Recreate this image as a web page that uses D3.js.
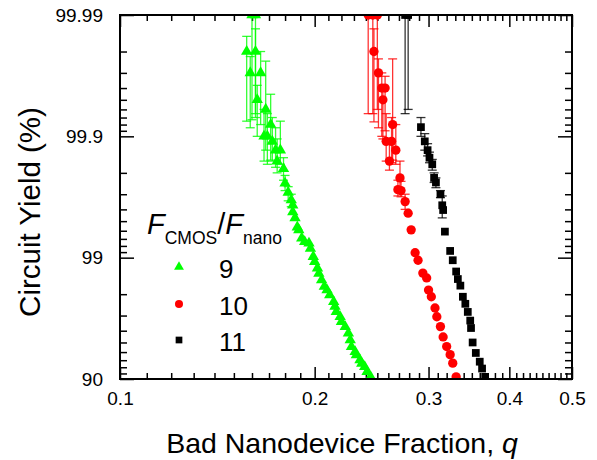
<!DOCTYPE html>
<html>
<head>
<meta charset="utf-8">
<script src="https://cdn.jsdelivr.net/npm/d3@7"></script>
<style>
  body { margin: 0; background: #fff; }
  svg { display: block; font-family: "Liberation Sans", Arial, sans-serif; }
  .axis path { display: none; }
  .axis line { stroke: #000; stroke-width: 1.5; }
  .axis text { font-size: 19px; fill: #000; font-family: "Liberation Sans", Arial, sans-serif; }
</style>
</head>
<body>
<div id="chart"></div>
<script>
/* DATA: q = bad nanodevice fraction, yield in %, error bar ends (yield %) */
var seriesNames = ["9", "10", "11"];

/* F_CMOS/F_nano = 9 */
var qGreen     = [0.160, 0.162, 0.157, 0.162, 0.159, 0.165, 0.163, 0.168, 0.171, 0.167, 0.169, 0.172, 0.174, 0.177, 0.175, 0.179,
                  0.180, 0.182, 0.184, 0.185, 0.185, 0.1865, 0.188, 0.189, 0.191, 0.193, 0.196, 0.197, 0.199, 0.200, 0.202, 0.203,
                  0.205, 0.207, 0.209, 0.211, 0.214, 0.215, 0.216, 0.219, 0.220, 0.223, 0.2255, 0.227, 0.228, 0.231, 0.232, 0.235,
                  0.2365, 0.239, 0.241, 0.244];
var yieldGreen = [99.99, 99.99, 99.98, 99.98, 99.97, 99.97, 99.95, 99.94, 99.92, 99.90, 99.90, 99.89, 99.87, 99.87, 99.84, 99.815,
                  99.756, 99.71, 99.665, 99.63, 99.58, 99.53, 99.44, 99.41, 99.31, 99.26, 99.24, 99.16, 99.02, 98.92, 98.78, 98.65,
                  98.47, 98.27, 98.15, 97.97, 97.69, 97.47, 97.21, 96.93, 96.63, 96.29, 95.80, 95.23, 94.58, 94.04, 93.66, 93.03,
                  92.57, 92.08, 91.29, 90.43];
var loGreen    = [99.927, 99.935, 99.925, 99.93, 99.915, 99.92, 99.90, 99.87, 99.843, 99.84, 99.83, 99.84, 99.82, 99.83, 99.80, 99.77, 99.72, 99.66, 99.62];
var hiGreen    = [99.999, 99.999, 99.985, 99.987, 99.978, 99.98, 99.962, 99.976, 99.955, 99.94, 99.935, 99.93, 99.915, 99.925, 99.895, 99.85, 99.79, 99.74, 99.70];

/* F_CMOS/F_nano = 10 */
var qRed     = [0.242, 0.246, 0.250, 0.247, 0.251, 0.254, 0.257, 0.255, 0.264, 0.258, 0.263, 0.267, 0.261, 0.271, 0.269, 0.272, 0.276,
                0.279, 0.282, 0.286, 0.289, 0.294, 0.298, 0.300, 0.303, 0.307, 0.309, 0.313, 0.316, 0.320, 0.324, 0.327, 0.331];
var yieldRed = [99.99, 99.99, 99.99, 99.98, 99.97, 99.96, 99.96, 99.95, 99.92, 99.89, 99.89, 99.87, 99.84, 99.78, 99.725, 99.72, 99.655,
                99.57, 99.41, 99.09, 98.95, 98.66, 98.53, 98.15, 97.90, 97.4, 96.93, 96.3, 95.5, 94.6, 93.7, 92.6, 90.4];
var loRed    = [99.935, 99.935, 99.94, 99.924, 99.915, 99.90, 99.91, 99.895, 99.843, 99.84, 99.835, 99.83, 99.81, 99.73, 99.69, 99.685, 99.60];
var hiRed    = [99.999, 99.999, 99.999, 99.987, 99.977, 99.97, 99.968, 99.962, 99.977, 99.935, 99.93, 99.92, 99.89, 99.84, 99.77, 99.765, 99.70];

/* F_CMOS/F_nano = 11 */
var qBlack     = [0.276, 0.279, 0.292, 0.296, 0.299, 0.301, 0.304, 0.306, 0.308, 0.313, 0.315, 0.316, 0.318, 0.324, 0.327, 0.331,
                  0.333, 0.336, 0.339, 0.342, 0.345, 0.348, 0.349, 0.351, 0.355, 0.360, 0.363, 0.367];
var yieldBlack = [99.99, 99.99, 99.916, 99.89, 99.87, 99.85, 99.83, 99.78, 99.76, 99.70, 99.63, 99.595, 99.39, 99.12, 98.95, 98.7,
                  98.5, 98.3, 97.9, 97.6, 97.2, 96.7, 96.2, 95.0, 93.9, 92.8, 91.8, 90.4];
var loBlack    = [99.935, 99.94, 99.90, 99.87, 99.855, 99.835, 99.81, 99.76, 99.735, 99.68, 99.53];
var hiBlack    = [99.999, 99.999, 99.93, 99.905, 99.885, 99.865, 99.845, 99.80, 99.78, 99.72, 99.69];

/* axis ticks */
var xMajorTicks = [0.1, 0.2, 0.3, 0.4, 0.5];
var xTickLabels = ["0.1", "0.2", "0.3", "0.4", "0.5"];
var yMajorTicks = [90, 99, 99.9, 99.99];
var yTickLabels = ["90", "99", "99.9", "99.99"];

/* helpers to build list of point objects */
function buildSeries(q, yv, lo, hi) {
  return q.map(function (d, i) {
    return { q: d, y: yv[i], lo: i < lo.length ? lo[i] : null, hi: i < hi.length ? hi[i] : null };
  });
}

var series = [
  { name: seriesNames[0], color: "#00ff00", symbol: d3.symbolTriangle, size: 56, data: buildSeries(qGreen, yieldGreen, loGreen, hiGreen) },
  { name: seriesNames[1], color: "#ff0000", symbol: d3.symbolCircle, size: 68, data: buildSeries(qRed, yieldRed, loRed, hiRed) },
  { name: seriesNames[2], color: "#000000", symbol: d3.symbolSquare, size: 60, data: buildSeries(qBlack, yieldBlack, loBlack, hiBlack) }
];

/* LAYOUT */
var W = 597, H = 460;
var plot = { left: 120, right: 572, top: 15, bottom: 379 };

var svg = d3.select("#chart").append("svg")
  .attr("width", W)
  .attr("height", H);

/* x: log scale of q */
var x = d3.scaleLog().domain([0.1, 0.5]).range([plot.left, plot.right]);
/* y: yield plotted as log of failure fraction (100 - yield) */
var yF = d3.scaleLog().domain([10, 0.01]).range([plot.bottom, plot.top]);
function y(v) { return yF(100 - v); }

/* minor ticks */
var xMinor = [];
for (var a = 0.11; a < 0.5; a += 0.01) {
  var v = Math.round(a * 100) / 100;
  if (xMajorTicks.indexOf(v) < 0) xMinor.push(v);
}
var yMinorF = [];
[1, 0.1, 0.01].forEach(function (dec) {
  for (var k = 2; k <= 9; k++) yMinorF.push(k * dec);
});
var yMajorF = yMajorTicks.map(function (v) { return +(100 - v).toFixed(4); });

/* clip */
svg.append("defs").append("clipPath").attr("id", "clip")
  .append("rect")
  .attr("x", plot.left).attr("y", plot.top)
  .attr("width", plot.right - plot.left).attr("height", plot.bottom - plot.top);

/* AXES */
svg.append("g").attr("class", "axis")
  .attr("transform", "translate(0," + plot.bottom + ")")
  .call(d3.axisBottom(x).tickValues(xMajorTicks).tickSizeInner(-12).tickSizeOuter(0).tickPadding(13)
    .tickFormat(function (d, i) { return xTickLabels[i]; }));
svg.append("g").attr("class", "axis")
  .attr("transform", "translate(0," + plot.bottom + ")")
  .call(d3.axisBottom(x).tickValues(xMinor).tickSizeInner(-6).tickSizeOuter(0).tickFormat(""));
svg.append("g").attr("class", "axis")
  .attr("transform", "translate(0," + plot.top + ")")
  .call(d3.axisTop(x).tickValues(xMajorTicks).tickSizeInner(-12).tickSizeOuter(0).tickFormat(""));
svg.append("g").attr("class", "axis")
  .attr("transform", "translate(0," + plot.top + ")")
  .call(d3.axisTop(x).tickValues(xMinor).tickSizeInner(-6).tickSizeOuter(0).tickFormat(""));

svg.append("g").attr("class", "axis")
  .attr("transform", "translate(" + plot.left + ",0)")
  .call(d3.axisLeft(yF).tickValues(yMajorF).tickSizeInner(-14).tickSizeOuter(0).tickPadding(17)
    .tickFormat(function (d, i) { return yTickLabels[i]; }));
svg.append("g").attr("class", "axis")
  .attr("transform", "translate(" + plot.left + ",0)")
  .call(d3.axisLeft(yF).tickValues(yMinorF).tickSizeInner(-7).tickSizeOuter(0).tickFormat(""));
svg.append("g").attr("class", "axis")
  .attr("transform", "translate(" + plot.right + ",0)")
  .call(d3.axisRight(yF).tickValues(yMajorF).tickSizeInner(-14).tickSizeOuter(0).tickFormat(""));
svg.append("g").attr("class", "axis")
  .attr("transform", "translate(" + plot.right + ",0)")
  .call(d3.axisRight(yF).tickValues(yMinorF).tickSizeInner(-7).tickSizeOuter(0).tickFormat(""));

/* DATA */
var dataLayer = svg.append("g").attr("clip-path", "url(#clip)");

series.forEach(function (s) {
  var g = dataLayer.append("g");
  var withErr = s.data.filter(function (d) { return d.lo !== null; });

  /* error bars */
  var eb = g.selectAll(".eb").data(withErr).enter().append("g")
    .attr("stroke", s.color)
    .attr("stroke-opacity", 0.8)
    .attr("stroke-width", 1.3);
  eb.append("line")
    .attr("x1", function (d) { return x(d.q); }).attr("x2", function (d) { return x(d.q); })
    .attr("y1", function (d) { return y(d.lo); }).attr("y2", function (d) { return y(d.hi); });
  eb.append("line")
    .attr("x1", function (d) { return x(d.q) - 4.5; }).attr("x2", function (d) { return x(d.q) + 4.5; })
    .attr("y1", function (d) { return y(d.lo); }).attr("y2", function (d) { return y(d.lo); });
  eb.append("line")
    .attr("x1", function (d) { return x(d.q) - 4.5; }).attr("x2", function (d) { return x(d.q) + 4.5; })
    .attr("y1", function (d) { return y(d.hi); }).attr("y2", function (d) { return y(d.hi); });

  /* markers */
  g.selectAll(".pt").data(s.data).enter().append("path")
    .attr("d", d3.symbol().type(s.symbol).size(s.size))
    .attr("transform", function (d) { return "translate(" + x(d.q) + "," + y(d.y) + ")"; })
    .attr("fill", s.color);
});

/* frame */
svg.append("rect")
  .attr("x", plot.left).attr("y", plot.top)
  .attr("width", plot.right - plot.left).attr("height", plot.bottom - plot.top)
  .attr("fill", "none").attr("stroke", "#000").attr("stroke-width", 2);

/* axis titles */
svg.append("text")
  .attr("x", 342).attr("y", 453)
  .attr("text-anchor", "middle")
  .style("font-size", "28.5px")
  .html('Bad Nanodevice Fraction, <tspan font-style="italic">q</tspan>');

svg.append("text")
  .attr("transform", "translate(40," + 212 + ") rotate(-90)")
  .attr("text-anchor", "middle")
  .style("font-size", "29.5px")
  .text("Circuit Yield (%)");

/* LEGEND */
var legendTitle = svg.append("text").attr("x", 147).attr("y", 234).style("font-size", "29px");
legendTitle.append("tspan").attr("font-style", "italic").text("F");
legendTitle.append("tspan").attr("font-size", "17.5px").attr("dy", 10).text("CMOS");
legendTitle.append("tspan").attr("dy", -10).text("/");
legendTitle.append("tspan").attr("font-style", "italic").text("F");
legendTitle.append("tspan").attr("font-size", "17.5px").attr("dy", 10).text("nano");

var legendY = [267, 304, 340];
series.forEach(function (s, i) {
  svg.append("path")
    .attr("d", d3.symbol().type(s.symbol).size(s.size * 0.75))
    .attr("transform", "translate(179," + legendY[i] + ")")
    .attr("fill", s.color);
  svg.append("text")
    .attr("x", 219).attr("y", legendY[i] + 11)
    .style("font-size", "26px")
    .text(s.name);
});
</script>
</body>
</html>
